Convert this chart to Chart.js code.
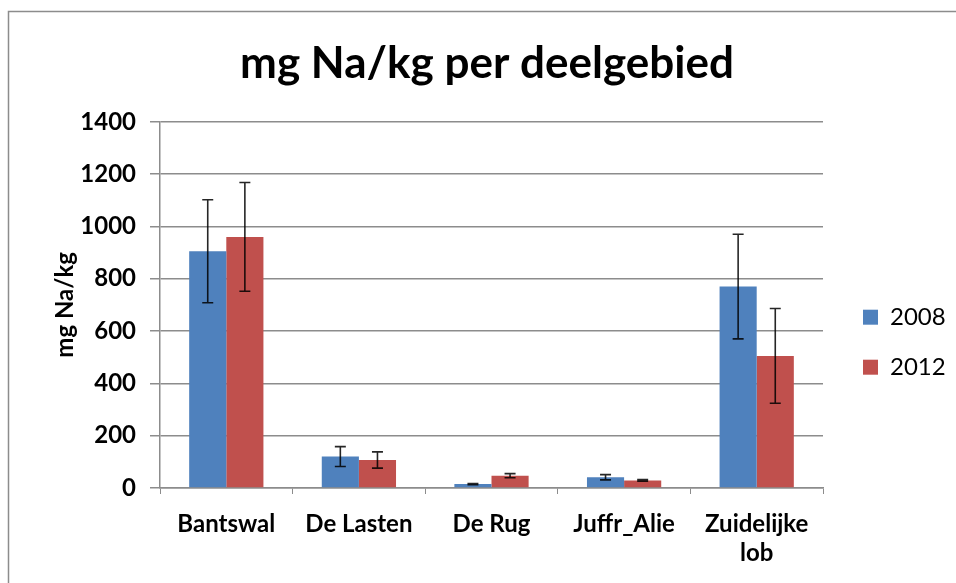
<!DOCTYPE html>
<html>
<head>
<meta charset="utf-8">
<script src="https://cdn.jsdelivr.net/npm/chart.js@4.4.0/dist/chart.umd.min.js"></script>
<style>
  html, body { margin: 0; padding: 0; background: #ffffff; }
  #wrap { position: relative; width: 956px; height: 583px; }
  canvas { display: block; }
</style>
</head>
<body>
<div id="wrap"><canvas id="c" width="956" height="583"></canvas></div>
<script>
const categories = ["Bantswal", "De Lasten", "De Rug", "Juffr_Alie", ["Zuidelijke", "lob"]];
const seriesNames = ["2008", "2012"];
const values2008 = [905, 120, 15, 41, 770];
const values2012 = [960, 107, 47, 29, 505];
const errors2008 = [197, 38, 2, 10, 200];
const errors2012 = [208, 31, 8, 3, 181];
const yTicks = [0, 200, 400, 600, 800, 1000, 1200, 1400];

const FONT = "Lato, 'Open Sans', sans-serif";

const frame = {
  id: 'frame',
  beforeDraw(chart) {
    const ctx = chart.ctx;
    ctx.save();
    ctx.fillStyle = '#ffffff';
    ctx.fillRect(0, 0, chart.width, chart.height);
    ctx.strokeStyle = '#8c8c8c';
    ctx.lineWidth = 1.5;
    ctx.beginPath();
    ctx.moveTo(8.5, chart.height);
    ctx.lineTo(8.5, 11.5);
    ctx.lineTo(chart.width, 11.5);
    ctx.stroke();
    ctx.restore();
  }
};

// legend sits a little away from the plot, as in the reference
const legendPlace = {
  id: 'legendPlace',
  beforeLayout(chart) {
    const lg = chart.legend;
    if (!lg || lg._patched) return;
    lg._patched = true;
    const origFit = lg.fit.bind(lg);
    lg.fit = function () { origFit(); this.width = 133; };
    const origDraw = lg.draw.bind(lg);
    lg.draw = function (area) {
      const l = this.left, r = this.right;
      this.left = l + 14; this.right = r + 14;
      origDraw(area);
      this.left = l; this.right = r;
    };
  }
};

const errorBars = {
  id: 'errorBars',
  afterDatasetsDraw(chart) {
    const ctx = chart.ctx;
    const y = chart.scales.y;
    const errs = [errors2008, errors2012];
    ctx.save();
    ctx.strokeStyle = 'rgba(0,0,0,0.85)';
    ctx.lineWidth = 1.6;
    chart.data.datasets.forEach((ds, di) => {
      const meta = chart.getDatasetMeta(di);
      meta.data.forEach((bar, i) => {
        const v = ds.data[i];
        const e = errs[di][i];
        const x = bar.x;
        const yt = y.getPixelForValue(v + e);
        const yb = y.getPixelForValue(Math.max(0, v - e));
        const cap = 5.5;
        ctx.beginPath();
        ctx.moveTo(x, yt); ctx.lineTo(x, yb);
        ctx.moveTo(x - cap, yt); ctx.lineTo(x + cap, yt);
        ctx.moveTo(x - cap, yb); ctx.lineTo(x + cap, yb);
        ctx.stroke();
      });
    });
    ctx.restore();
  }
};

new Chart(document.getElementById('c'), {
  type: 'bar',
  data: {
    labels: categories,
    datasets: [
      { label: seriesNames[0], data: values2008, backgroundColor: '#4F81BD', borderWidth: 0 },
      { label: seriesNames[1], data: values2012, backgroundColor: '#C0504D', borderWidth: 0 }
    ]
  },
  options: {
    responsive: false,
    animation: false,
    devicePixelRatio: 1,
    layout: { padding: { left: 18, right: 0, top: 37, bottom: 0 } },
    datasets: { bar: { categoryPercentage: 0.56, barPercentage: 1.0 } },
    plugins: {
      title: {
        display: true,
        text: 'mg Na/kg per deelgebied',
        color: '#000000',
        font: { family: FONT, size: 44, weight: 'bold' },
        padding: { top: 0, bottom: 32 }
      },
      legend: {
        display: true,
        position: 'right',
        align: 'center',
        title: { display: true, text: ' ', font: { size: 12 }, padding: 25 },
        labels: {
          boxWidth: 15, boxHeight: 15,
          color: '#000000',
          font: { family: FONT, size: 24 },
          padding: 26
        }
      },
      tooltip: { enabled: false }
    },
    scales: {
      x: {
        afterFit(scale) { scale.height = 95; },
        grid: { display: true, drawOnChartArea: false, drawTicks: true, tickLength: 6, color: '#8c8c8c', offset: true },
        border: { display: true, color: '#8c8c8c', width: 1.5 },
        ticks: { color: '#000000', font: { family: FONT, size: 24, weight: 'bold' }, padding: 16, maxRotation: 0, autoSkip: false }
      },
      y: {
        min: 0, max: 1400,
        afterBuildTicks(scale) { scale.ticks = yTicks.map(v => ({ value: v })); },
        afterFit(scale) { scale.width = 142; },
        grid: { color: '#8c8c8c', lineWidth: 1.5, tickLength: 10, drawTicks: true },
        border: { display: true, color: '#8c8c8c', width: 1.5 },
        title: { display: true, text: 'mg Na/kg', color: '#000000', font: { family: FONT, size: 24, weight: 'bold' }, padding: { top: 33, bottom: 0 } },
        ticks: { color: '#000000', font: { family: FONT, size: 24, weight: 'bold' }, padding: 14, callback: (v) => String(v) }
      }
    }
  },
  plugins: [frame, legendPlace, errorBars]
});
</script>
</body>
</html>
